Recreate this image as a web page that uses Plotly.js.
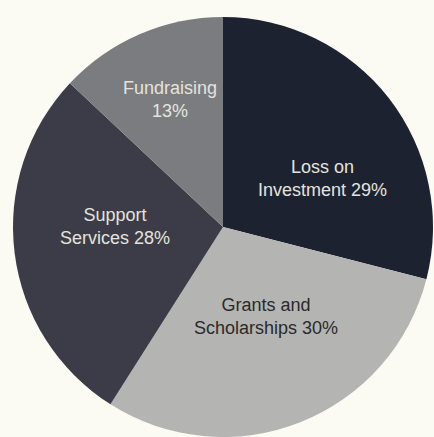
<!DOCTYPE html>
<html>
<head>
<meta charset="utf-8">
<script src="https://cdn.plot.ly/plotly-3.0.1.min.js"></script>
<style>html,body{margin:0;padding:0;background:#fbfbf3;}#chart{width:434px;height:437px;}</style>
</head>
<body>
<div id="chart"></div>
<script>
const categories = ["Loss on Investment", "Grants and Scholarships", "Support Services", "Fundraising"];
const values = [29, 30, 28, 13];
const labelTexts = ["Loss on<br>Investment 29%", "Grants and<br>Scholarships 30%", "Support<br>Services 28%", "Fundraising<br>13%"];

const colors = ["#1d2230", "#b4b5b3", "#3b3c48", "#7b7c80"];
const textColors = ["#e4e4dc", "#2a2a2a", "#e4e4dc", "#e4e4dc"];

// label placement (pixel centres in the 434x437 page), layout only
const labelPx = [[322, 178], [266, 316], [115, 226], [170, 100]];

const M = {l: 13, r: 1, t: 17, b: 0};
const W = 434, H = 437;
const pw = W - M.l - M.r, ph = H - M.t - M.b;

const trace = {
  type: "pie",
  labels: categories,
  values: values,
  textinfo: "none",
  sort: false,
  direction: "clockwise",
  rotation: 0,
  marker: {colors: colors, line: {width: 0}},
  hoverinfo: "none",
  showlegend: false
};

const annotations = labelTexts.map((t, i) => ({
  xref: "paper", yref: "paper",
  x: (labelPx[i][0] - M.l) / pw,
  y: 1 - (labelPx[i][1] - M.t) / ph,
  xanchor: "center", yanchor: "middle",
  align: "center",
  text: t,
  showarrow: false,
  font: {family: "Liberation Sans, Arial, sans-serif", size: 18, color: textColors[i]}
}));

const layout = {
  width: W,
  height: H,
  margin: M,
  paper_bgcolor: "#fbfbf3",
  plot_bgcolor: "#fbfbf3",
  showlegend: false,
  annotations: annotations
};

Plotly.newPlot("chart", [trace], layout, {displayModeBar: false, staticPlot: true});
</script>
</body>
</html>
